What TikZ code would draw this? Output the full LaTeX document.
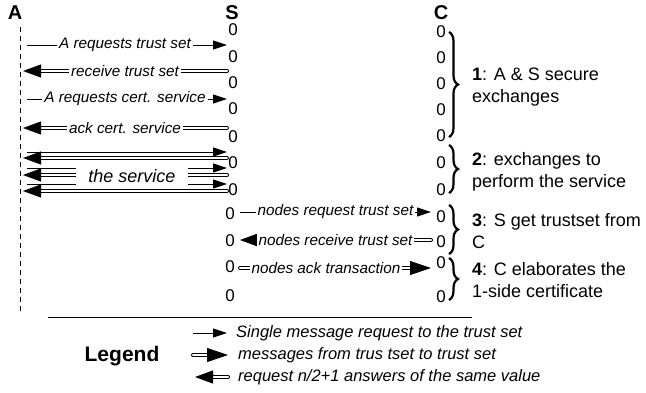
\documentclass[tikz,border=0pt]{standalone}
\usepackage{fontspec}
\setmainfont{Liberation Sans}
\usetikzlibrary{arrows.meta,decorations.pathreplacing}

\begin{document}
\begin{tikzpicture}[
  x=1pt,y=-1pt,
  hdr/.style={font=\fontsize{20}{20}\selectfont\bfseries,inner sep=0pt},
  zero/.style={font=\fontsize{17}{17}\selectfont,inner sep=0pt},
  lbl/.style={font=\fontsize{15.3}{16}\selectfont\itshape,fill=white,inner sep=2pt,midway},
  single/.style={-{Triangle[length=14pt,width=9pt]},line width=0.9pt},
  dbl/.style={double=white,double distance=2.2pt,line width=0.9pt,line cap=round},
  fwd/.style={dbl,-{Triangle[length=21pt,width=14pt]}},
  bwd/.style={dbl,-{Triangle[length=18pt,width=13pt]}},
  brace/.style={decorate,decoration={brace,amplitude=9pt},line width=2.2pt},
  note/.style={font=\fontsize{18}{22}\selectfont,align=left,anchor=west,inner sep=0pt},
  legtxt/.style={font=\fontsize{16.5}{17}\selectfont\itshape,anchor=west,inner sep=0pt}]

  \useasboundingbox (0,0) rectangle (646,392);

  % ---- lifeline heads ----
  \node[hdr] (hA) at (15,13) {A};
  \node[hdr] (hS) at (232,13) {S};
  \node[hdr] (hC) at (441,13) {C};

  % A lifeline
  \coordinate (aTop) at (20,27);
  \coordinate (aBot) at (20,313);
  \draw[line width=0.9pt,dash pattern=on 5pt off 4pt] (aTop) -- (aBot);

  % S and C columns of zeros
  \foreach \y [count=\i] in {30,57,83,109,137,163,190}
    \node[zero] (s\i) at (233,\y) {0};
  \foreach \y [count=\i from 8] in {214,241,267,296}
    \node[zero] (s\i) at (230,\y) {0};
  \foreach \y [count=\i] in {32,58,84,110,136,163,190,217,242,263,297}
    \node[zero] (c\i) at (441,\y) {0};

  % ---- A <-> S exchanges ----
  \foreach \n/\y in {1/45,2/71,3/99,4/128,5/152,6/158,7/168,8/175,9/184,10/191} {
    \coordinate (ma\n) at (23,\y);
    \coordinate (ms\n) at (227,\y);
  }
  \draw[single,shorten <=4pt] (ma1) -- (ms1) node[lbl] {A requests trust set};
  \draw[bwd] (ms2) -- (ma2) node[lbl] {receive trust set};
  \draw[single,shorten <=4pt] (ma3) -- (ms3) node[lbl] {A requests cert. service};
  \draw[bwd] (ms4) -- (ma4) node[lbl] {ack cert. service};

  % the service
  \foreach \r/\l in {5/6,7/8,9/10} {
    \draw[single,shorten <=4pt] (ma\r) -- (ms\r);
    \draw[bwd] (ms\l) -- (ma\l);
  }
  \node[font=\fontsize{18}{18}\selectfont\itshape,fill=white,
    minimum width=112pt,minimum height=21pt] (srv) at (132,176) {the service};

  % ---- S <-> C exchanges ----
  \foreach \n/\y in {11/212,12/240,13/268} {
    \coordinate (ml\n) at (240,\y);
    \coordinate (mc\n) at (431,\y);
  }
  \draw[single] (ml11) -- (mc11) node[lbl] {nodes request trust set};
  \draw[bwd] (mc12) -- (ml12) node[lbl] {nodes receive trust set};
  \draw[fwd] (ml13) -- (mc13) node[lbl,pos=0.45] {nodes ack transaction};

  % ---- phases ----
  \coordinate (br1a) at (449,32);  \coordinate (br1b) at (449,137);
  \coordinate (br2a) at (449,145); \coordinate (br2b) at (449,193);
  \coordinate (br3a) at (449,205); \coordinate (br3b) at (449,254);
  \coordinate (br4a) at (449,258); \coordinate (br4b) at (449,300);
  \draw[brace] (br1a) -- (br1b);
  \draw[brace] (br2a) -- (br2b);
  \draw[brace] (br3a) -- (br3b);
  \draw[brace] (br4a) -- (br4b);
  \node[note] (ph1) at (472,87) {\textbf{1}: A \& S secure\\exchanges};
  \node[note] (ph2) at (472,172) {\textbf{2}: exchanges to\\perform the service};
  \node[note] (ph3) at (472,231) {\textbf{3}: S get trustset from\\C};
  \node[note] (ph4) at (472,280) {\textbf{4}: C elaborates the\\1-side certificate};

  % ---- legend ----
  \coordinate (ruleL) at (48,317);
  \coordinate (ruleR) at (472,317);
  \draw[line width=0.9pt] (ruleL) -- (ruleR);
  \node[font=\fontsize{21}{21}\selectfont\bfseries,inner sep=0pt] (leg) at (122,356) {Legend};

  \coordinate (l1a) at (193,333); \coordinate (l1b) at (227,333);
  \coordinate (l2a) at (193,355); \coordinate (l2b) at (228,355);
  \coordinate (l3a) at (228,377); \coordinate (l3b) at (195,377);
  \draw[single] (l1a) -- (l1b);
  \draw[fwd] (l2a) -- (l2b);
  \draw[bwd] (l3a) -- (l3b);
  \node[legtxt] (t1) at (236,333) {Single message request to the trust set};
  \node[legtxt] (t2) at (238,355) {messages from trus tset to trust set};
  \node[legtxt] (t3) at (238,377) {request n/2+1 answers of the same value};
\end{tikzpicture}
\end{document}
